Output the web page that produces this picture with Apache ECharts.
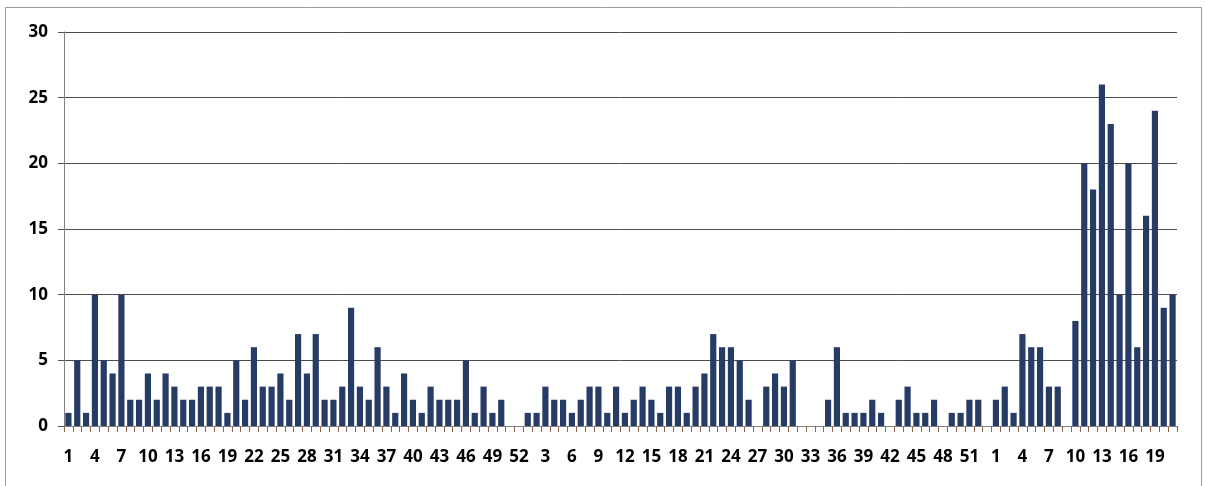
<!DOCTYPE html>
<html>
<head>
<meta charset="utf-8">
<script src="https://cdn.jsdelivr.net/npm/echarts@6/dist/echarts.min.js"></script>
<style>
  html, body { margin: 0; padding: 0; background: #fff; }
  #chart { width: 1205px; height: 486px; }
</style>
</head>
<body>
<div id="chart"></div>
<script>
// weekly counts, three consecutive years (52, 53 and 21 weeks shown)
const year1 = [1, 5, 1, 10, 5, 4, 10, 2, 2, 4, 2, 4, 3, 2, 2, 3, 3, 3, 1, 5, 2, 6, 3, 3, 4, 2,
  7, 4, 7, 2, 2, 3, 9, 3, 2, 6, 3, 1, 4, 2, 1, 3, 2, 2, 2, 5, 1, 3, 1, 2, 0, 0];
const year2 = [1, 1, 3, 2, 2, 1, 2, 3, 3, 1, 3, 1, 2, 3, 2, 1, 3, 3, 1, 3, 4, 7, 6, 6, 5, 2,
  0, 3, 4, 3, 5, 0, 0, 0, 2, 6, 1, 1, 1, 2, 1, 0, 2, 3, 1, 1, 2, 0, 1, 1, 2, 2, 0];
const year3 = [2, 3, 1, 7, 6, 6, 3, 3, 0, 8, 20, 18, 26, 23, 10, 20, 6, 16, 24, 9, 10];

const weeksPerYear = [year1.length, year2.length, year3.length];
const yTicks = [0, 5, 10, 15, 20, 25, 30];

const categories = [];
weeksPerYear.forEach((n) => {
  for (let w = 1; w <= n; w++) categories.push(String(w));
});
const values = year1.concat(year2, year3);

const chart = echarts.init(document.getElementById('chart'), null, { renderer: 'canvas' });
const font = '"Open Sans", Lato, sans-serif';

chart.setOption({
  animation: false,
  backgroundColor: '#fff',
  graphic: [
    {
      type: 'rect',
      shape: { x: 5.5, y: 7.5, width: 1196, height: 500 },
      style: { fill: 'none', stroke: '#9a9a9a', lineWidth: 1 },
      silent: true,
    },
  ],
  grid: { left: 64, right: 28, top: 32, bottom: 60, containLabel: false },
  xAxis: {
    type: 'category',
    data: categories,
    boundaryGap: true,
    axisLine: { lineStyle: { color: '#808080', width: 1 } },
    axisTick: { show: true, interval: 0, length: 6, lineStyle: { color: '#8a6656' } },
    axisLabel: {
      interval: 2,
      color: '#000',
      fontFamily: font,
      fontWeight: 700,
      fontSize: 17,
      margin: 23,
    },
    splitLine: { show: false },
  },
  yAxis: {
    type: 'value',
    min: yTicks[0],
    max: yTicks[yTicks.length - 1],
    interval: 5,
    axisLine: { show: true, lineStyle: { color: '#808080', width: 1 } },
    axisTick: { show: true, length: 6, lineStyle: { color: '#555' } },
    axisLabel: {
      color: '#000',
      fontFamily: font,
      fontWeight: 700,
      fontSize: 17,
      margin: 16,
    },
    splitLine: { lineStyle: { color: '#4d4d4d', width: 1 } },
  },
  series: [
    {
      type: 'bar',
      data: values,
      barCategoryGap: '30%',
      itemStyle: { color: '#263b66' },
    },
  ],
});
</script>
</body>
</html>
